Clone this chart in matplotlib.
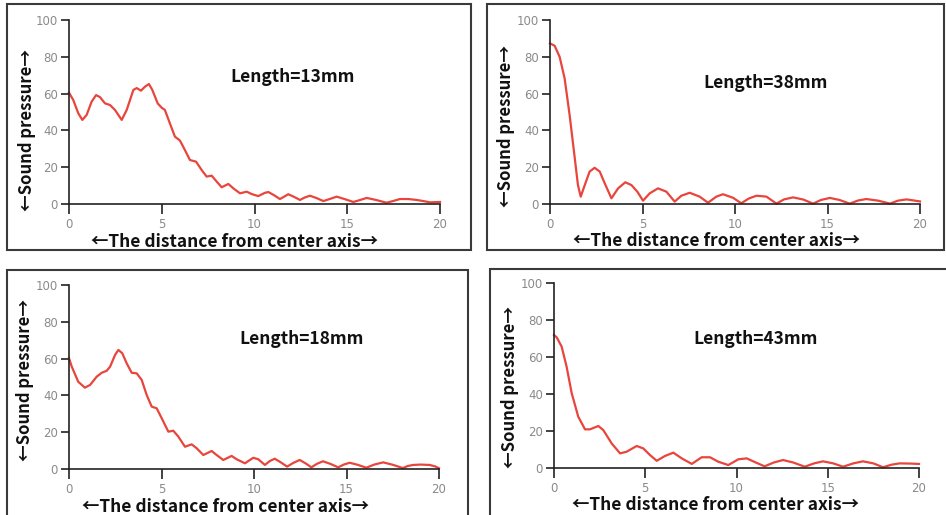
import matplotlib.pyplot as plt
from matplotlib.patches import Rectangle

W, H = 946, 515

# curve samples (distance, sound pressure)
x13 = [0, 0.23, 0.5, 0.72, 0.95, 1.22, 1.46, 1.67, 1.94, 2.21, 2.48, 2.84, 3.11, 3.47, 3.65, 3.88, 4.1, 4.31,
       4.49, 4.78, 5.0, 5.17, 5.44, 5.71, 5.98, 6.25, 6.52, 6.85, 7.15, 7.42, 7.69, 7.96, 8.23, 8.59, 8.86,
       9.22, 9.58, 9.85, 10.2, 10.57, 10.75, 11.05, 11.37, 11.6, 11.82, 12.15, 12.45, 12.7, 12.99, 13.35,
       13.71, 14.05, 14.43, 14.85, 15.33, 15.7, 16.05, 16.55, 17.12, 17.5, 17.84, 18.3, 18.74, 19.1, 19.46, 20]
y13 = [60.5, 56.5, 49.3, 45.7, 48.4, 55.6, 59.2, 58.1, 54.7, 53.8, 51.1, 45.7, 51.1, 62, 63, 61.6, 63.8, 65.2,
       62, 54.7, 52.3, 51.1, 43.8, 36.6, 34.5, 29.3, 23.9, 23, 18.5, 14.9, 15.4, 12.2, 9.1, 10.9, 8.5,
       5.8, 6.7, 5.4, 4.3, 6.1, 6.5, 4.8, 2.7, 4.0, 5.3, 3.8, 2.2, 3.5, 4.5, 3.2,
       1.6, 2.7, 4.0, 2.7, 1.1, 2.2, 3.3, 2.2, 0.7, 1.7, 2.7, 2.7, 2.2, 1.6, 0.9, 1.1]

x38 = [0, 0.25, 0.52, 0.79, 1.06, 1.34, 1.51, 1.66, 1.88, 2.14, 2.41, 2.69, 2.96, 3.32, 3.68, 4.07, 4.4, 4.72,
       5.03, 5.39, 5.84, 6.29, 6.74, 7.1, 7.55, 8.09, 8.54, 8.99, 9.35, 9.89, 10.34, 10.75, 11.16, 11.7,
       12.24, 12.65, 13.14, 13.7, 14.22, 14.65, 15.13, 15.65, 16.2, 16.65, 17.1, 17.75, 18.38, 18.8, 19.28, 20]
y38 = [87.3, 86, 80, 68.3, 48.4, 24.8, 10.3, 4, 10.3, 17.6, 19.7, 17.6, 11.2, 3.1, 8.5, 11.8, 10.3, 6.7,
       1.8, 5.8, 8.5, 6.7, 1.3, 4.5, 6.1, 4.0, 0.7, 4.0, 5.3, 3.4, 0.4, 3.0, 4.5, 4.0,
       0.2, 2.5, 3.6, 2.4, 0.2, 2.2, 3.3, 2.2, 0.2, 1.9, 2.7, 1.8, 0.2, 1.8, 2.5, 1.4]

x18 = [0, 0.15, 0.5, 0.86, 1.14, 1.5, 1.77, 2.04, 2.22, 2.49, 2.67, 2.88, 3.12, 3.39, 3.66, 3.93, 4.2, 4.47,
       4.74, 5.01, 5.37, 5.64, 5.91, 6.27, 6.63, 6.9, 7.26, 7.71, 7.98, 8.34, 8.79, 9.06, 9.51, 9.96, 10.23,
       10.59, 10.85, 11.12, 11.45, 11.79, 12.12, 12.47, 12.8, 13.1, 13.4, 13.73, 14.15, 14.55, 14.85, 15.17,
       15.6, 16.07, 16.5, 16.98, 17.5, 18.05, 18.3, 18.6, 19.0, 19.5, 19.8, 20]
y18 = [60.2, 55.6, 47.4, 44.2, 45.7, 50.2, 52.3, 53.4, 55.6, 62, 64.7, 62.9, 57.4, 52.3, 52, 48.4, 40.2, 33.9,
       33, 27.6, 20.3, 20.8, 17.6, 12.1, 13.4, 11.3, 7.6, 9.8, 7.6, 4.9, 7.1, 5.3, 3.1, 6.1, 5.3,
       2.2, 4.3, 5.6, 3.6, 1.3, 3.3, 4.9, 3.0, 0.9, 2.8, 4.2, 2.7, 0.9, 2.4, 3.4,
       2.3, 0.7, 2.4, 3.6, 2.3, 0.5, 1.6, 2.2, 2.4, 2.2, 1.4, 0.4]

x43 = [0, 0.15, 0.42, 0.69, 0.97, 1.33, 1.7, 1.97, 2.43, 2.7, 3.16, 3.62, 3.98, 4.53, 4.89, 5.26, 5.63, 6.08,
       6.54, 7.0, 7.55, 8.09, 8.55, 9.0, 9.55, 10.1, 10.56, 11.05, 11.54, 12.05, 12.55, 13.1, 13.74, 14.25,
       14.74, 15.3, 15.84, 16.4, 16.93, 17.5, 18.03, 18.5, 18.94, 19.5, 20]
y43 = [71.9, 70.6, 65.6, 54.8, 40.4, 27.7, 20.9, 20.9, 22.7, 20.5, 13.3, 7.9, 8.8, 11.9, 10.6, 7.0, 3.9, 6.5,
       8.3, 5.2, 2.2, 5.8, 5.8, 3.4, 1.6, 4.7, 5.2, 3.0, 0.9, 3.0, 4.3, 3.0, 0.7, 2.5,
       3.6, 2.5, 0.7, 2.5, 3.6, 2.5, 0.4, 1.8, 2.5, 2.4, 2.2]

titles = ["Length=13mm", "Length=38mm", "Length=18mm", "Length=43mm"]
xticks = [0, 5, 10, 15, 20]
yticks = [0, 20, 40, 60, 80, 100]

lab_font = ['Noto Sans CJK KR', 'DejaVu Sans']

fig = plt.figure(figsize=(W / 100, H / 100), dpi=100)


def fx(px):
    return px / W


def fy(py):
    return 1 - py / H


# (axes px box, frame px box, xlabel pos, ylabel pos, title pos)
panels = [
    ((69, 20, 440, 204), (7, 4, 471, 250), (234, 242), (27, 130), (293, 77)),
    ((550, 20, 920, 204), (487, 4, 944, 250), (716, 241), (506, 126), (766, 83)),
    ((69, 285, 439, 469), (7, 270, 468, 520), (225, 507), (25, 380), (302, 339)),
    ((554, 283, 919, 468), (490, 269, 950, 520), (715, 505), (510, 387), (756, 339)),
]
series = [(x13, y13), (x38, y38), (x18, y18), (x43, y43)]

for i in range(4):
    (l, t, r, b), (fl, ft, fr, fb), xl, yl, tl = panels[i]
    fig.add_artist(Rectangle((fx(fl), fy(fb)), fx(fr) - fx(fl), fy(ft) - fy(fb),
                             transform=fig.transFigure, fill=False,
                             edgecolor='#3a3a3a', linewidth=1.5))
    ax = fig.add_axes([fx(l), fy(b), fx(r) - fx(l), fy(t) - fy(b)])
    xs, ys = series[i]
    ax.plot(xs, ys, color='#e8453c', linewidth=1.6, solid_joinstyle='round',
            clip_on=False)
    ax.set_xlim(0, 20)
    ax.set_ylim(0, 100)
    ax.set_xticks(xticks)
    ax.set_yticks(yticks)
    ax.spines['top'].set_visible(False)
    ax.spines['right'].set_visible(False)
    for s in ['left', 'bottom']:
        ax.spines[s].set_color('#222222')
        ax.spines[s].set_linewidth(1.2)
    ax.tick_params(axis='x', direction='out', length=7, width=1.2, pad=3,
                   labelsize=8.5, labelcolor='#8a8a8a', color='#222222')
    ax.tick_params(axis='y', direction='out', length=6, width=1.2, pad=2,
                   labelsize=8.5, labelcolor='#8a8a8a', color='#222222')
    ax.patch.set_visible(False)

    fig.text(fx(xl[0]), fy(xl[1]), "←The distance from center axis→",
             ha='center', va='center', fontsize=12.5, fontweight='bold',
             family=lab_font, color='#111111')
    fig.text(fx(yl[0]), fy(yl[1]), "←Sound pressure→", rotation=90,
             ha='center', va='center', fontsize=12, fontweight='bold',
             family=lab_font, color='#111111')
    fig.text(fx(tl[0]), fy(tl[1]), titles[i], ha='center', va='center',
             fontsize=12.5, fontweight='bold', family=lab_font, color='#111111')

fig.savefig("out.png", dpi=100)
